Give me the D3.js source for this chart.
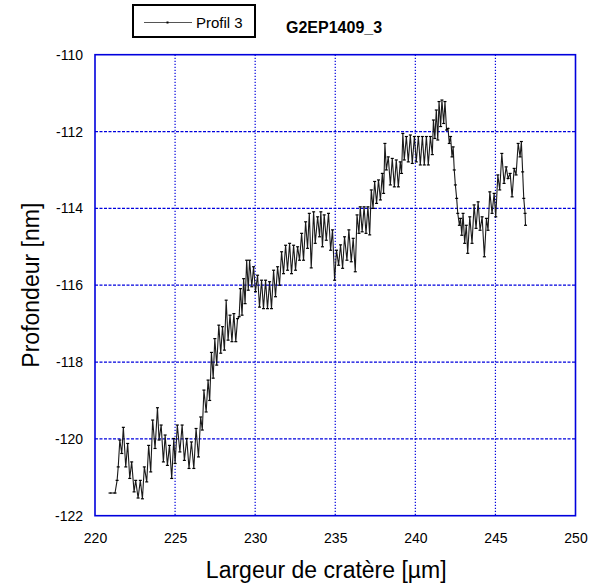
<!DOCTYPE html>
<html>
<head>
<meta charset="utf-8">
<script src="https://cdn.jsdelivr.net/npm/d3@7"></script>
<style>
  html, body { margin: 0; padding: 0; background: #fff; }
  svg { display: block; font-family: "Liberation Sans", Arial, sans-serif; }
</style>
</head>
<body>
<svg id="chart" width="598" height="584"></svg>
<script>
// Profile 3 of crater G2EP1409_3: lateral position (µm) and depth (nm)
const positionUm = [
  220.94, 221.25, 221.38, 221.45, 221.55, 221.67, 221.77, 221.92, 222.04, 222.17,
  222.29, 222.44, 222.54, 222.69, 222.83, 222.96, 223.08, 223.23, 223.35, 223.48,
  223.60, 223.75, 223.90, 224.00, 224.13, 224.27, 224.38, 224.52, 224.65, 224.79,
  224.92, 225.00, 225.14, 225.30, 225.44, 225.58, 225.73, 225.87, 226.02, 226.17,
  226.31, 226.46, 226.60, 226.70, 226.80, 226.94, 227.06, 227.16, 227.27, 227.38,
  227.48, 227.60, 227.73, 227.85, 227.96, 228.08, 228.19, 228.31, 228.43, 228.55,
  228.67, 228.79, 228.90, 229.00, 229.08, 229.18, 229.28, 229.37, 229.47, 229.57,
  229.65, 229.79, 229.90, 230.02, 230.15, 230.27, 230.40, 230.52, 230.65, 230.77,
  230.90, 231.02, 231.15, 231.27, 231.40, 231.52, 231.65, 231.77, 231.90, 232.02,
  232.15, 232.27, 232.40, 232.52, 232.65, 232.77, 232.90, 233.02, 233.15, 233.27,
  233.38, 233.50, 233.65, 233.75, 233.90, 234.02, 234.10, 234.20, 234.31, 234.44,
  234.58, 234.71, 234.83, 234.96, 235.08, 235.21, 235.33, 235.46, 235.58, 235.73,
  235.85, 236.00, 236.12, 236.25, 236.36, 236.48, 236.56, 236.68, 236.80, 236.92,
  237.04, 237.15, 237.25, 237.36, 237.46, 237.58, 237.70, 237.82, 237.94, 238.02,
  238.10, 238.19, 238.31, 238.44, 238.56, 238.69, 238.81, 238.94, 239.06, 239.14,
  239.22, 239.31, 239.44, 239.56, 239.69, 239.81, 239.94, 240.06, 240.19, 240.31,
  240.44, 240.56, 240.69, 240.81, 240.94, 241.06, 241.13, 241.22, 241.31, 241.40,
  241.48, 241.58, 241.66, 241.77, 241.85, 241.95, 242.04, 242.12, 242.20, 242.29,
  242.36, 242.43, 242.50, 242.58, 242.65, 242.75, 242.82, 242.90, 242.98, 243.08,
  243.18, 243.27, 243.40, 243.54, 243.67, 243.79, 243.92, 244.04, 244.17, 244.31,
  244.44, 244.54, 244.65, 244.79, 244.92, 245.02, 245.15, 245.27, 245.40, 245.54,
  245.67, 245.79, 245.92, 246.04, 246.17, 246.29, 246.42, 246.54, 246.62, 246.70,
  246.77, 246.85, 246.88
];

const depthNm = [
  -121.41, -121.41, -121.08, -120.73, -120.03, -120.38, -119.70, -120.73, -120.12, -121.03,
  -120.60, -121.38, -121.08, -121.54, -121.08, -121.56, -120.73, -121.12, -120.17, -120.86,
  -119.51, -120.25, -119.19, -120.03, -119.64, -120.60, -119.90, -120.69, -120.17, -121.03,
  -119.99, -120.64, -119.64, -120.34, -119.64, -120.56, -119.99, -120.77, -120.08, -120.77,
  -119.73, -120.47, -119.43, -119.77, -118.73, -119.30, -118.47, -119.00, -117.75, -118.42,
  -117.39, -118.08, -117.04, -117.77, -117.08, -117.69, -116.39, -117.43, -116.78, -117.47,
  -116.74, -117.47, -116.87, -116.82, -116.09, -116.78, -115.83, -116.48, -115.35, -116.13,
  -115.35, -116.04, -115.52, -116.17, -115.74, -116.57, -115.87, -116.61, -115.87, -116.61,
  -115.91, -116.61, -115.61, -116.30, -115.52, -116.00, -115.13, -115.70, -114.96, -115.61,
  -114.91, -115.70, -114.96, -115.61, -115.00, -115.35, -114.65, -115.35, -114.35, -115.04,
  -114.13, -115.55, -114.09, -114.91, -114.22, -114.74, -114.09, -115.00, -114.17, -114.83,
  -114.13, -115.09, -114.56, -115.87, -115.09, -115.48, -114.95, -115.56, -114.74, -115.35,
  -114.56, -115.39, -114.78, -115.65, -114.17, -114.65, -113.96, -114.61, -113.96, -114.65,
  -113.96, -114.69, -113.52, -114.00, -113.30, -113.87, -113.26, -113.78, -113.09, -113.61,
  -112.31, -113.00, -112.66, -113.39, -112.70, -113.44, -112.74, -113.44, -112.79, -113.09,
  -112.05, -112.74, -112.13, -112.79, -112.09, -112.83, -112.13, -112.79, -112.13, -112.87,
  -112.13, -112.87, -112.13, -112.87, -112.13, -112.60, -111.70, -112.18, -111.44, -112.22,
  -111.22, -111.87, -111.18, -111.79, -111.22, -111.96, -111.92, -112.31, -112.13, -112.66,
  -112.40, -113.00, -113.39, -113.74, -114.13, -114.44, -114.26, -114.70, -114.13, -114.91,
  -114.44, -115.17, -114.22, -114.91, -113.91, -114.52, -113.83, -114.57, -114.22, -115.26,
  -114.26, -114.57, -113.57, -114.13, -113.61, -114.22, -113.13, -113.52, -112.57, -113.35,
  -112.92, -113.22, -113.09, -113.70, -112.96, -113.13, -112.31, -112.66, -112.26, -113.05,
  -113.74, -114.13, -114.44
];

const xTickValues = [220, 225, 230, 235, 240, 245, 250];
const yTickValues = [-110, -112, -114, -116, -118, -120, -122];

const seriesName = "Profil 3";
const chartTitle = "G2EP1409_3";
const xTitle = "Largeur de cratère [µm]";
const yTitle = "Profondeur [nm]";

const svg = d3.select("#chart");
const plot = { left: 95, right: 575.5, top: 54.7, bottom: 515.7 };
const gridBlue = "#0000dd";

const x = d3.scaleLinear().domain([220, 250]).range([plot.left, plot.right]);
const y = d3.scaleLinear().domain([-122, -110]).range([plot.bottom, plot.top]);

const points = positionUm.map((p, i) => ({ x: p, y: depthNm[i] }));

// grid: dotted verticals, dashed horizontals
svg.append("g").selectAll("line")
  .data(xTickValues.slice(1, -1)).join("line")
  .attr("x1", d => x(d)).attr("x2", d => x(d))
  .attr("y1", plot.top).attr("y2", plot.bottom)
  .attr("stroke", gridBlue).attr("stroke-width", 1.2)
  .attr("stroke-dasharray", "1.3,1.7");

svg.append("g").selectAll("line")
  .data(yTickValues.slice(1, -1)).join("line")
  .attr("x1", plot.left).attr("x2", plot.right)
  .attr("y1", d => y(d)).attr("y2", d => y(d))
  .attr("stroke", gridBlue).attr("stroke-width", 1.2)
  .attr("stroke-dasharray", "3,1.5");

// frame
svg.append("rect")
  .attr("x", plot.left).attr("y", plot.top)
  .attr("width", plot.right - plot.left).attr("height", plot.bottom - plot.top)
  .attr("fill", "none").attr("stroke", gridBlue).attr("stroke-width", 1.6);

// axes (labels only)
const xAxis = svg.append("g")
  .attr("transform", `translate(0,${plot.bottom})`)
  .call(d3.axisBottom(x).tickValues(xTickValues).tickSize(0).tickPadding(17).tickFormat(d3.format("d")));
const yAxis = svg.append("g")
  .attr("transform", `translate(${plot.left},0)`)
  .call(d3.axisLeft(y).tickValues(yTickValues).tickSize(0).tickPadding(12).tickFormat(d => d3.format("d")(d).replace("−", "-")));
[xAxis, yAxis].forEach(g => {
  g.select(".domain").remove();
  g.selectAll("text").attr("font-size", 14).attr("fill", "#000")
    .attr("font-family", "'Liberation Sans', Arial, sans-serif");
});

// profile trace
const line = d3.line().x(d => x(d.x)).y(d => y(d.y));
svg.append("path")
  .datum(points)
  .attr("d", line)
  .attr("fill", "none")
  .attr("stroke", "#1a1a1a")
  .attr("stroke-width", 1.1);

svg.append("g").selectAll("rect")
  .data(points).join("rect")
  .attr("x", d => x(d.x) - 1.5).attr("y", d => y(d.y) - 0.6)
  .attr("width", 3).attr("height", 1.2)
  .attr("fill", "#000");

// axis titles
svg.append("text")
  .attr("x", (plot.left + plot.right) / 2 - 9).attr("y", 578)
  .attr("text-anchor", "middle").attr("font-size", 23).attr("fill", "#000")
  .text(xTitle);
svg.append("text")
  .attr("transform", `translate(39,${(plot.top + plot.bottom) / 2}) rotate(-90)`)
  .attr("text-anchor", "middle").attr("font-size", 23).attr("fill", "#000")
  .text(yTitle);

// legend
const legend = svg.append("g");
legend.append("rect")
  .attr("x", 133).attr("y", 5).attr("width", 122).attr("height", 32)
  .attr("fill", "#fff").attr("stroke", "#000").attr("stroke-width", 2);
legend.append("line")
  .attr("x1", 144).attr("x2", 192).attr("y1", 22.5).attr("y2", 22.5)
  .attr("stroke", "#555").attr("stroke-width", 1);
legend.append("rect")
  .attr("x", 166.5).attr("y", 21.5).attr("width", 2).attr("height", 2).attr("fill", "#000");
legend.append("text")
  .attr("x", 196).attr("y", 27.5).attr("font-size", 15).attr("fill", "#000")
  .text(seriesName);

// title
svg.append("text")
  .attr("x", 286).attr("y", 33).attr("font-size", 16).attr("font-weight", "bold").attr("fill", "#000")
  .text(chartTitle);
</script>
</body>
</html>
